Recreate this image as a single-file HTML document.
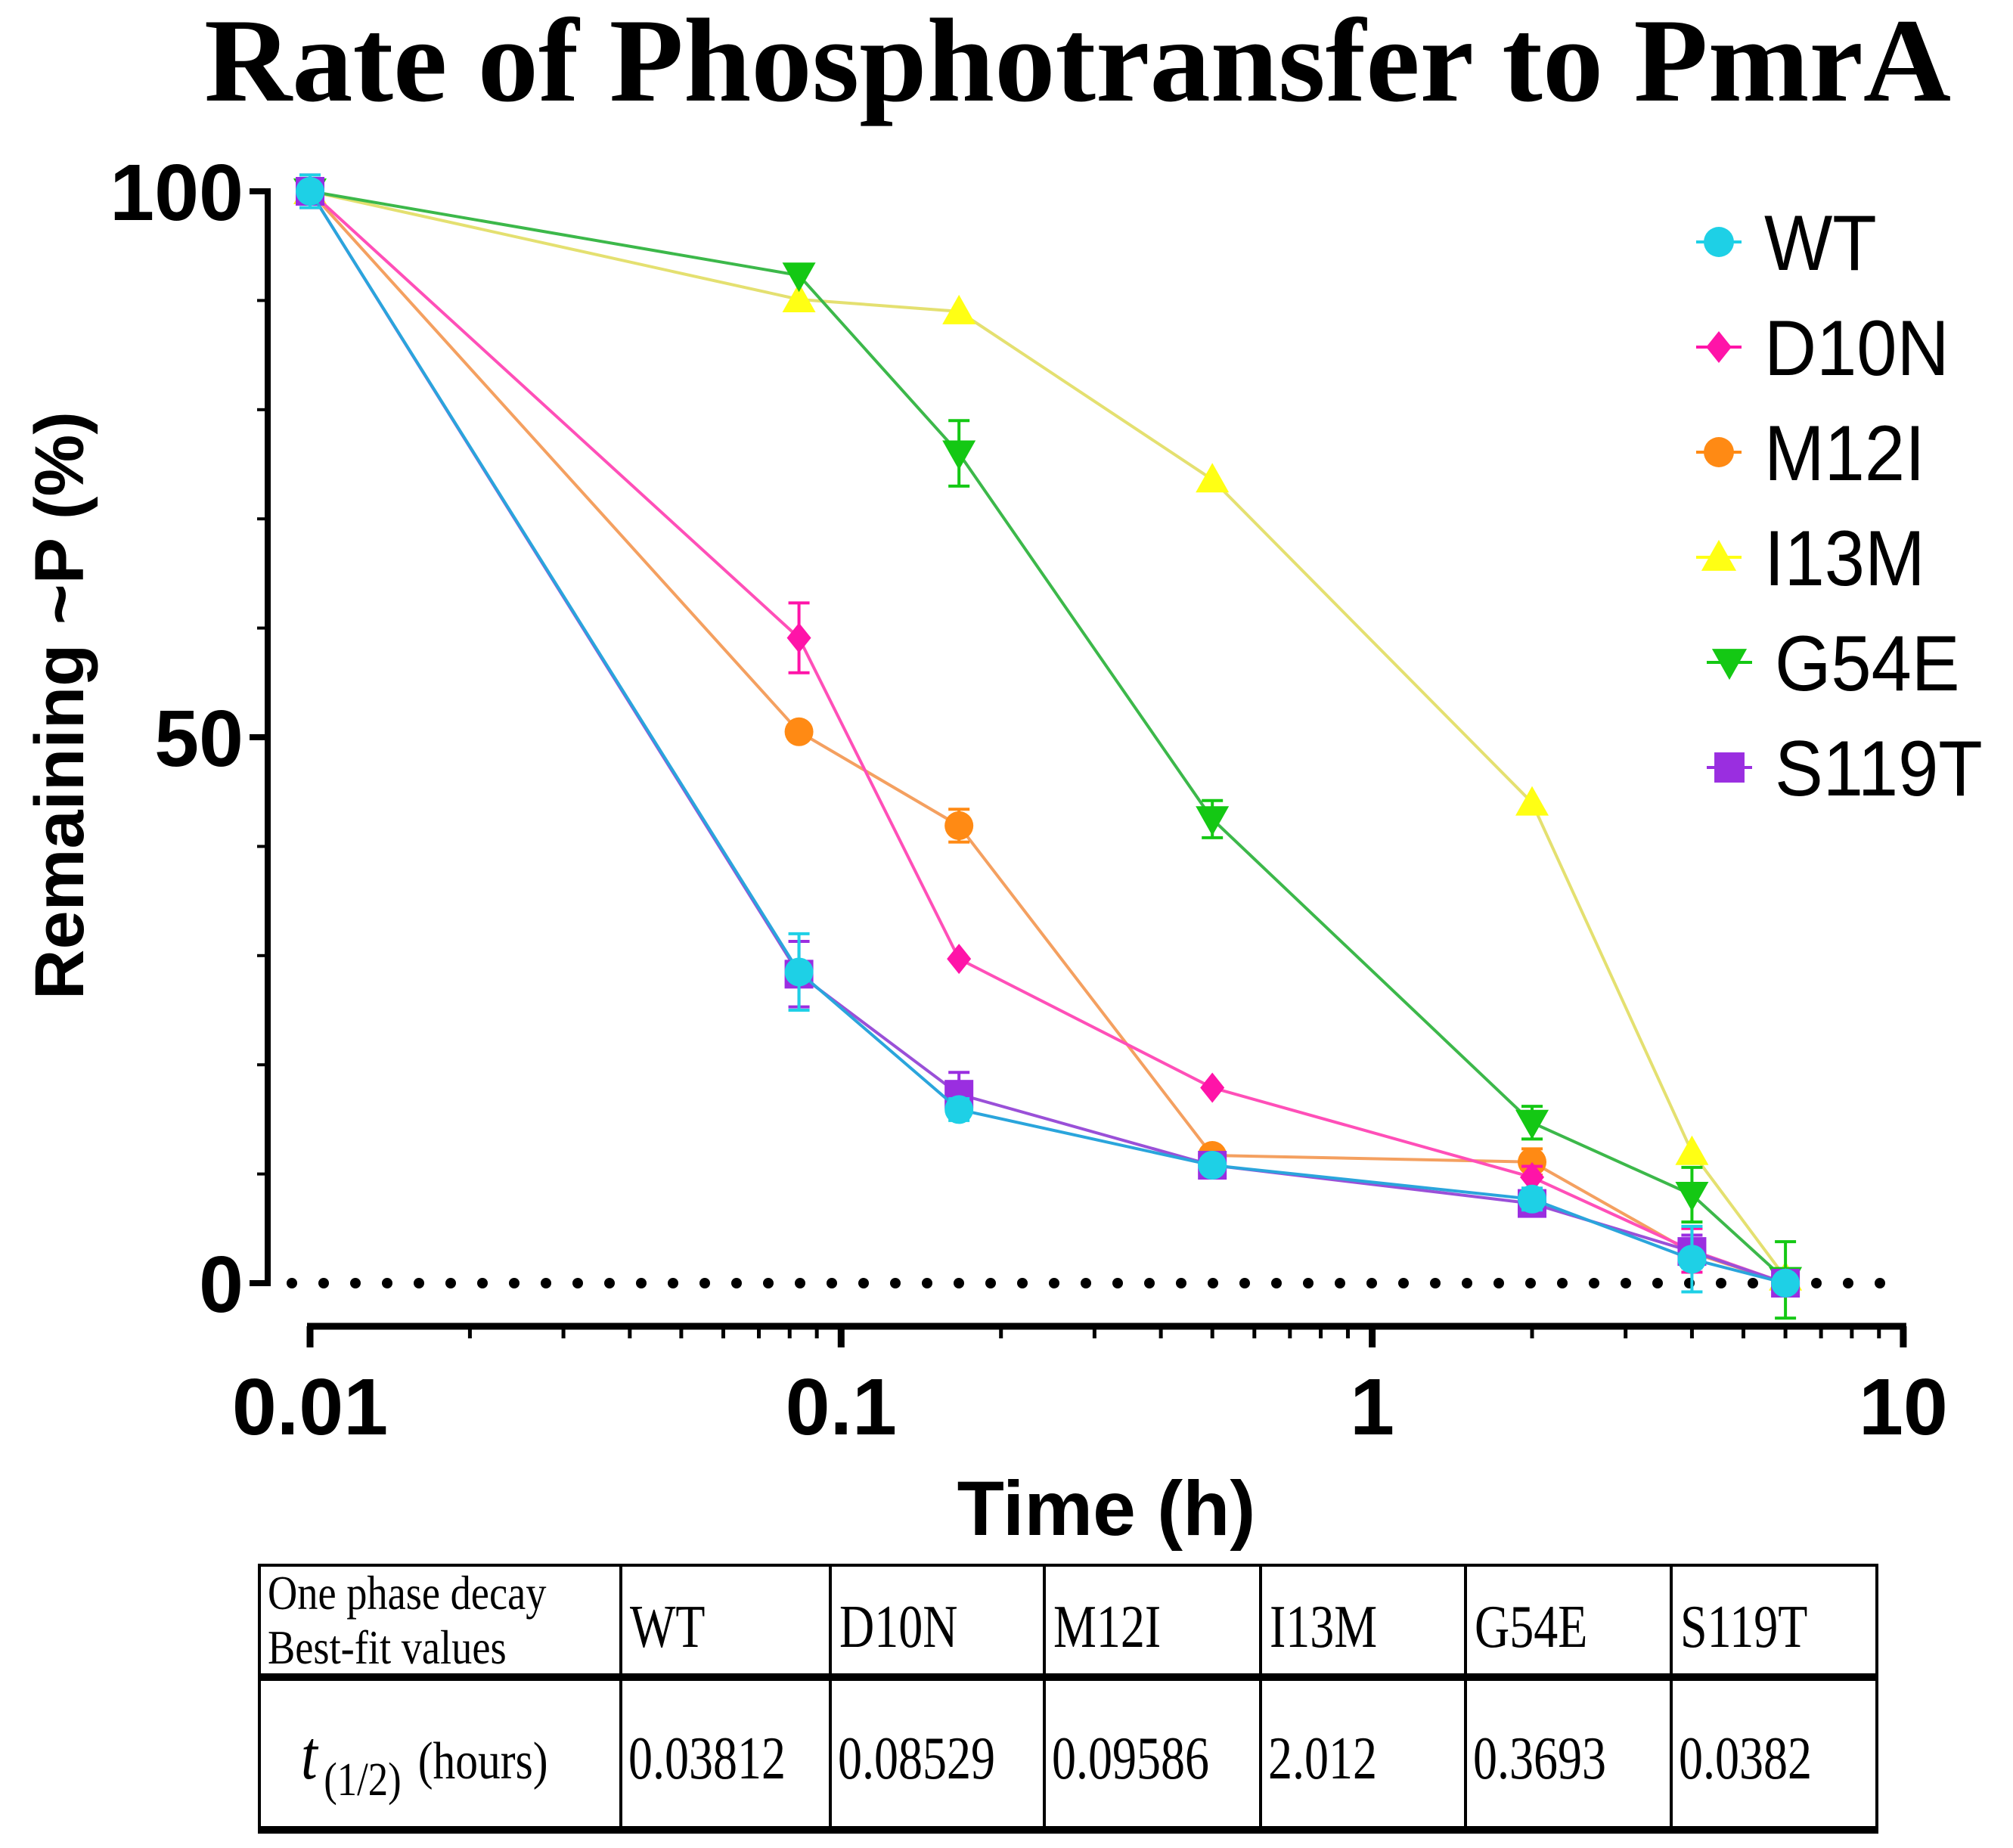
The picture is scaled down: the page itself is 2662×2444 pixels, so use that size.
<!DOCTYPE html>
<html><head><meta charset="utf-8"><style>
html,body{margin:0;padding:0;background:#fff;}
svg{display:block;}
</style></head><body>
<svg id="chart" width="2662" height="2444" viewBox="0 0 2662 2444" xmlns="http://www.w3.org/2000/svg">
<text x="1425" y="133" text-anchor="middle" font-family="Liberation Serif, serif" font-weight="bold" font-size="158" textLength="2310" lengthAdjust="spacingAndGlyphs">Rate of Phosphotransfer to PmrA</text>
<g id="axes"></g>
<g id="series"></g>
<g id="legend"></g>
<g id="table"></g>
</svg>
<script>
const times = [0.01, 0.0833, 0.1667, 0.5, 2, 4, 6];
const seriesNames = ["WT","D10N","M12I","I13M","G54E","S119T"];
const wtValues = [100, 28.5, 15.9, 10.8, 7.7, 2.2, 0];
const d10nValues = [100, 59.1, 29.7, 17.9, 9.7, 3.0, 0];
const m12iValues = [100, 50.5, 41.9, 11.7, 11.1, 2.8, 0];
const i13mValues = [100, 90.1, 89.0, 73.6, 44.0, 12.0, 0.5];
const g54eValues = [100, 92.3, 76.0, 42.5, 14.7, 8.1, 0.3];
const s119tValues = [100, 28.3, 17.3, 10.8, 7.3, 2.9, 0];
const wtErr = [1.5, 3.5, 1.0, 0.8, 1.0, 3.0, 0];
const d10nErr = [1.5, 3.2, 0.5, 0.5, 1.0, 2.0, 0];
const m12iErr = [1.0, 0.5, 1.5, 0.5, 1.2, 1.0, 0];
const i13mErr = [1.0, 0.5, 0.5, 0.5, 0.5, 0.5, 0.5];
const g54eErr = [1.0, 0.5, 3.0, 1.7, 1.5, 2.5, 3.5];
const s119tErr = [1.0, 3.0, 2.0, 1.0, 1.0, 1.5, 0];
const xTickLabels = ["0.01","0.1","1","10"];
const xTickValues = [0.01, 0.1, 1, 10];
const yTickValues = [0, 50, 100];
const tableHeaders = ["WT","D10N","M12I","I13M","G54E","S119T"];
const tableValues = ["0.03812","0.08529","0.09586","2.012","0.3693","0.0382"];

const NS="http://www.w3.org/2000/svg";
function mk(tag, attrs, parent, text){const e=document.createElementNS(NS,tag);for(const k in attrs)e.setAttribute(k,attrs[k]);if(text!==undefined)e.textContent=text;parent.appendChild(e);return e;}
const X0=410, DEC=702.3;
function xs(t){return X0+(Math.log10(t)+2)*DEC;}
const Y0=1697, Y100=253;
function ys(v){return Y0-(v/100)*(Y0-Y100);}

const axes=document.getElementById('axes');
const yAxis=mk('line',{x1:354,y1:ys(100)-4,x2:354,y2:ys(0)+4,stroke:'#000','stroke-width':8},axes);


for(let v=0;v<=100;v+=10){
  const major=yTickValues.includes(v);
  mk('line',{x1:major?330:340,y1:ys(v),x2:354,y2:ys(v),stroke:'#000','stroke-width':major?8:4},axes);
}
yTickValues.forEach(v=>{
  const t=mk('text',{x:322,y:ys(v)+38,'text-anchor':'end','font-family':'Liberation Sans, sans-serif','font-weight':'bold','font-size':106},axes,String(v));
  
  
});
for(let x=386;x<2520;x+=42){mk('circle',{cx:x,cy:ys(0),r:7,fill:'#000'},axes);}
const xAxis=mk('line',{x1:xs(0.01)-4,y1:1754,x2:xs(10)+4,y2:1754,stroke:'#000','stroke-width':9},axes);


for(let d=-2;d<1;d++){for(let m=1;m<=9;m++){const t=m*Math.pow(10,d);const major=m===1;mk('line',{x1:xs(t),y1:1754,x2:xs(t),y2:major?1782:1770,stroke:'#000','stroke-width':major?9:5},axes);}}
mk('line',{x1:xs(10),y1:1754,x2:xs(10),y2:1782,stroke:'#000','stroke-width':9},axes);
xTickValues.forEach((v,i)=>{
  const t=mk('text',{x:xs(v),y:1897,'text-anchor':'middle','font-family':'Liberation Sans, sans-serif','font-weight':'bold','font-size':106},axes,xTickLabels[i]);
  
  
});
const xt=mk('text',{x:1463,y:2030,'text-anchor':'middle','font-family':'Liberation Sans, sans-serif','font-weight':'bold','font-size':102},axes,'Time (h)');


const yt=mk('text',{x:0,y:0,transform:'translate(110,933) rotate(-90)','text-anchor':'middle','font-family':'Liberation Sans, sans-serif','font-weight':'bold','font-size':92},axes,'Remaining ~P (%)');



const series=[
 {name:'WT',vals:wtValues,err:wtErr,line:'#2aa5dc',fill:'#1ed0e6',shape:'circle'},
 {name:'D10N',vals:d10nValues,err:d10nErr,line:'#ff4fb8',fill:'#ff14a8',shape:'diamond'},
 {name:'M12I',vals:m12iValues,err:m12iErr,line:'#f4a060',fill:'#ff8a14',shape:'circle'},
 {name:'I13M',vals:i13mValues,err:i13mErr,line:'#e4e070',fill:'#ffff14',shape:'tri'},
 {name:'G54E',vals:g54eValues,err:g54eErr,line:'#3cb84a',fill:'#14c814',shape:'tridown'},
 {name:'S119T',vals:s119tValues,err:s119tErr,line:'#9a50d8',fill:'#9a2ee0',shape:'square'}
];
const order=[3,4,2,1,5,0];
function marker(shape,cx,cy,fill,parent,size){
  const s=size||1;
  if(shape==='circle')return mk('circle',{cx,cy,r:19*s,fill},parent);
  if(shape==='square')return mk('rect',{x:cx-19*s,y:cy-19*s,width:38*s,height:38*s,fill},parent);
  if(shape==='diamond')return mk('polygon',{points:`${cx},${cy-20*s} ${cx+16*s},${cy} ${cx},${cy+20*s} ${cx-16*s},${cy}`,fill},parent);
  if(shape==='tri')return mk('polygon',{points:`${cx},${cy-22*s} ${cx+22*s},${cy+17*s} ${cx-22*s},${cy+17*s}`,fill},parent);
  if(shape==='tridown')return mk('polygon',{points:`${cx},${cy+22*s} ${cx+22*s},${cy-17*s} ${cx-22*s},${cy-17*s}`,fill},parent);
}
const sg=document.getElementById('series');
order.forEach(i=>{
  const s=series[i];
  const g=mk('g',{},sg);
  
  
  const pts=times.map((t,j)=>xs(t)+','+ys(s.vals[j])).join(' ');
  const pl=mk('polyline',{points:pts,fill:'none',stroke:s.line,'stroke-width':4},g);
  
  
  times.forEach((t,j)=>{
    const cx=xs(t),e=s.err[j];
    if(e>0.8){
      const y1=ys(s.vals[j]+e),y2=ys(s.vals[j]-e);
      mk('line',{x1:cx,y1:y1,x2:cx,y2:y2,stroke:s.fill,'stroke-width':4},g);
      mk('line',{x1:cx-14,y1:y1,x2:cx+14,y2:y1,stroke:s.fill,'stroke-width':4},g);
      mk('line',{x1:cx-14,y1:y2,x2:cx+14,y2:y2,stroke:s.fill,'stroke-width':4},g);
    }
    const m=marker(s.shape,cx,ys(s.vals[j]),s.fill,g);
    
    
  });
});
const lg=document.getElementById('legend');
series.forEach((s,i)=>{
  const y=320+i*139;
  const g=mk('g',{},lg);
  
  
  const shift=(s.name==='G54E'||s.name==='S119T')?14:0;
  const mx=2273+shift;
  mk('line',{x1:mx-30,y1:y,x2:mx+30,y2:y,stroke:s.fill,'stroke-width':4},g);
  marker(s.shape,mx,y,s.fill,g,1.05);
  mk('text',{transform:`translate(${2333+shift},${y+37}) scale(0.92,1)`,'font-family':'Liberation Sans, sans-serif','font-size':104},g,s.name);
});
const tb=document.getElementById('table');
const cols=[343,821,1098,1381,1667,1938,2210,2482];
const tblTop=2070, tblMid=2218, tblBot=2420;
mk('line',{x1:cols[0]-2,y1:tblTop,x2:cols[7]+2,y2:tblTop,stroke:'#000','stroke-width':4},tb);
mk('line',{x1:cols[0]-2,y1:tblMid,x2:cols[7]+2,y2:tblMid,stroke:'#000','stroke-width':10},tb);
mk('line',{x1:cols[0]-2,y1:tblBot,x2:cols[7]+2,y2:tblBot,stroke:'#000','stroke-width':10},tb);
cols.forEach(x=>mk('line',{x1:x,y1:tblTop,x2:x,y2:tblBot,stroke:'#000','stroke-width':4},tb));
const F='Liberation Serif, serif';
mk('text',{transform:'translate(354,2128) scale(0.85,1)','font-family':F,'font-size':64},tb,'One phase decay');
mk('text',{transform:'translate(354,2200) scale(0.85,1)','font-family':F,'font-size':64},tb,'Best-fit values');
const tl=mk('text',{transform:'translate(398,2352) scale(0.85,1)','font-family':F,'font-size':72},tb);
mk('tspan',{'font-style':'italic','font-size':92},tl,'t');
mk('tspan',{'font-size':62,dy:22,dx:10},tl,'(1/2)');
mk('tspan',{'font-size':70,dy:-22,dx:26},tl,'(hours)');
tableHeaders.forEach((h,i)=>{
  const t=mk('text',{transform:`translate(${cols[i+1]+12},2178) scale(0.8,1)`,'font-family':F,'font-size':80},tb,h);
  
  
  const v=mk('text',{transform:`translate(${cols[i+1]+10},2352) scale(0.8,1)`,'font-family':F,'font-size':80},tb,tableValues[i]);
  
  
});
</script>
</body></html>
